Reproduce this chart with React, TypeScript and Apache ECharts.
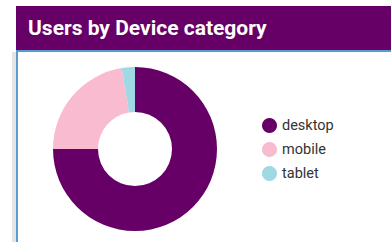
import React, { useEffect, useRef } from "react";
import * as echarts from "echarts";

const title = "Users by Device category";
const categories = ["desktop", "mobile", "tablet"];
const values = [750, 224, 26];
const colors = ["#660066", "#f8bbd0", "#a0d8e4"];

export default function App() {
  const ref = useRef<HTMLDivElement>(null);
  useEffect(() => {
    if (!ref.current) return;
    const chart = echarts.init(ref.current, undefined, { renderer: "svg" });
    chart.setOption({
      animation: false,
      graphic: [
        { type: "rect", shape: { x: 12, y: 52, width: 5, height: 200 }, style: { fill: "#e4e4e4" }, z: 0 },
        { type: "rect", shape: { x: 16, y: 6, width: 380, height: 45 }, style: { fill: "#660066" }, z: 1 },
        { type: "rect", shape: { x: 16, y: 50, width: 380, height: 2 }, style: { fill: "#5b9bd0" }, z: 2 },
        { type: "rect", shape: { x: 16, y: 50, width: 2, height: 200 }, style: { fill: "#5b9bd0" }, z: 2 },
        {
          type: "text",
          x: 28,
          y: 28,
          z: 3,
          style: {
            text: title,
            fill: "#ffffff",
            font: "bold 21px Roboto",
            verticalAlign: "middle",
          },
        },
      ],
      legend: {
        orient: "vertical",
        left: 257,
        top: 113,
        icon: "circle",
        itemWidth: 15,
        itemHeight: 15,
        itemGap: 9,
        data: categories,
        textStyle: { fontFamily: "Roboto", fontSize: 14.5, color: "#333" },
      },
      series: [
        {
          type: "pie",
          center: [135, 149],
          radius: [37, 82],
          startAngle: 90,
          clockwise: true,
          label: { show: false },
          labelLine: { show: false },
          silent: true,
          data: categories.map((c, i) => ({
            name: c,
            value: values[i],
            itemStyle: { color: colors[i] },
          })),
        },
      ],
    });
    return () => chart.dispose();
  }, []);
  return (
    <div
      ref={ref}
      style={{ position: "fixed", left: 0, top: 0, width: 391, height: 242, background: "#fff" }}
    />
  );
}
